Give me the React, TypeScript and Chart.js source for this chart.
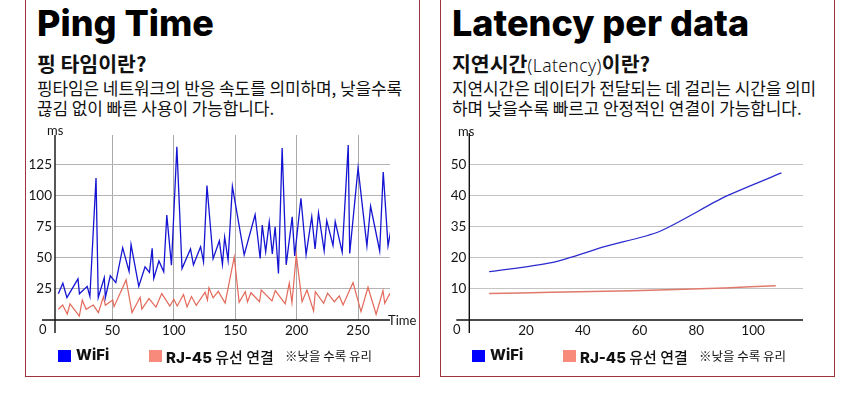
import { useRef, useEffect } from 'react';
import Chart from 'chart.js/auto';

// Ping time series (left panel)
const wifiTimes = [6, 9.7, 13, 22, 23.2, 29.5, 31.7, 36.7, 38.5, 43.4, 44.3, 48.3, 52.8, 58.4, 63.6, 65.2, 71.5, 76.6, 80.2, 82.4, 83.7, 87.9, 91.8, 94.3, 98.1, 102.5, 106.7, 113.6, 116, 121.8, 124.2, 127, 132, 137.1, 139.6, 141.4, 144.2, 147.7, 157.3, 166.2, 170.3, 172, 174.8, 177.7, 180.2, 182.5, 185.2, 188.2, 191.5, 196.4, 198.4, 203.5, 207.7, 212.3, 215, 217.8, 222.4, 224.5, 229.6, 231.4, 237.1, 242, 243.2, 250, 257.2, 260.2, 267.6, 270.5, 274.4, 277.2];
const wifiMs = [21, 29.5, 18, 33, 21, 27, 19, 114, 18, 34, 18, 35.5, 30, 58, 39, 60.5, 27, 42.7, 38.2, 57.5, 33.3, 47.4, 38.8, 84.2, 44, 139, 41.3, 57, 44.3, 58.8, 46.7, 108, 49.2, 63.5, 44.6, 66.5, 48, 107.2, 52.3, 84.5, 49.4, 76.2, 54.8, 78.6, 53, 74.8, 37.3, 138, 44.3, 82.8, 51.4, 97.7, 52.6, 83, 57, 86, 55.5, 79.8, 59.8, 79, 54.5, 140.4, 53.4, 122, 59.5, 91.3, 55.5, 118.8, 59.5, 75];
const lanTimes = [6, 9.5, 13.3, 15.5, 23.1, 25.5, 28.6, 34.5, 38.6, 42.7, 44.3, 50.3, 51.4, 61.2, 66, 72.6, 74, 79.8, 85.5, 90.2, 96.8, 100, 102.8, 107.9, 110.8, 114.4, 118.3, 125.5, 127.4, 128.6, 132, 136.2, 141.8, 149.2, 153.2, 158.2, 160, 162.8, 169.8, 171.2, 179.9, 182.6, 190.7, 194, 196.2, 199.7, 204.4, 208.4, 213.8, 215.2, 222, 225.2, 230.7, 234.7, 237.8, 245.9, 252.4, 258.1, 264.7, 270.3, 271.7, 275.7, 277.7];
const lanMs = [8.6, 12, 4.8, 12.9, 3.2, 16, 8.6, 12, 5.9, 18.7, 11.8, 16, 10.7, 32.2, 5.9, 18.2, 8.8, 17.2, 10.4, 21.2, 11.2, 16.6, 11.2, 20.5, 10.5, 18.8, 11.8, 22.3, 16, 25.8, 17.8, 23, 13.6, 50.6, 14.2, 22.8, 14.5, 21.9, 14.7, 24.1, 15.3, 23.6, 12.9, 29.5, 13.9, 52.3, 14.7, 24.1, 7.2, 22.8, 13.4, 21.5, 14.7, 19.3, 12.1, 30, 6.7, 26.3, 4.6, 23.6, 13.4, 20.9, 18.2];
const pingXTicks = [50, 100, 150, 200, 250];
const pingYTicks = [25, 50, 75, 100, 125];

// Latency per data (right panel)
const latWifiX = [7, 29, 48, 67, 90, 110];
const latWifiMs = [15.5, 18.4, 23.6, 28.4, 39.5, 47.2];
const latLanX = [7, 29, 48, 67, 90, 108];
const latLanMs = [8.5, 8.9, 9.2, 9.6, 10.3, 11.0];
const latXTicks = [20, 40, 60, 80, 100];
const latYTicks = [10, 20, 30, 40, 50];
const latYLabels = ['10', '20', '35', '40', '50'];

const BLUE = '#1414d2';
const RED = '#e3695a';
const TICK_FONT = { family: 'Lato, "Noto Sans", sans-serif', size: 13.5, weight: 400 as const };
const KR = '"Noto Sans CJK KR", "Noto Sans", sans-serif';
const TITLE = 'Inter, "Noto Sans", sans-serif';

// draws the crossing axis lines, a bit past the origin like the original
const axisCross = {
  id: 'axisCross',
  afterDraw(chart: any, _args: any, opts: any) {
    const { ctx, chartArea: a } = chart;
    ctx.save();
    ctx.strokeStyle = '#111';
    ctx.lineWidth = 1.4;
    ctx.beginPath();
    ctx.moveTo(a.left - opts.xLeft, a.bottom);
    ctx.lineTo(a.right, a.bottom);
    ctx.moveTo(a.left, a.top);
    ctx.lineTo(a.left, a.bottom + opts.yBelow);
    ctx.stroke();
    ctx.restore();
  },
};

function zip(xs: number[], ys: number[]) {
  return xs.map((x, i) => ({ x, y: ys[i] }));
}

function pingConfig(): any {
  return {
    type: 'line',
    data: {
      datasets: [
        { label: 'WiFi', data: zip(wifiTimes, wifiMs), borderColor: BLUE, borderWidth: 1.3, pointRadius: 0, tension: 0 },
        { label: 'RJ-45', data: zip(lanTimes, lanMs), borderColor: RED, borderWidth: 1.2, pointRadius: 0, tension: 0 },
      ],
    },
    plugins: [axisCross],
    options: {
      animation: false,
      responsive: true,
      maintainAspectRatio: false,
      layout: { padding: { left: 0, right: 40, top: 15, bottom: 0 } },
      plugins: { legend: { display: false }, tooltip: { enabled: false }, axisCross: { xLeft: 13, yBelow: 13 } },
      scales: {
        x: {
          type: 'linear',
          min: 3.3,
          max: 276,
          afterBuildTicks: (s: any) => { s.ticks = pingXTicks.map((v) => ({ value: v })); },
          afterFit: (s: any) => { s.height = 30; },
          grid: { color: '#a9a9a9', lineWidth: 1, drawTicks: false },
          border: { display: false },
          ticks: { font: TICK_FONT, color: '#151515', padding: 3, maxRotation: 0 },
        },
        y: {
          type: 'linear',
          min: 0,
          max: 148.5,
          afterBuildTicks: (s: any) => { s.ticks = pingYTicks.map((v) => ({ value: v })); },
          afterFit: (s: any) => { s.width = 55; },
          grid: { color: '#b4b4b4', lineWidth: 1, drawTicks: false },
          border: { display: false },
          ticks: { font: TICK_FONT, color: '#151515', padding: 3 },
        },
      },
    },
  };
}

function latencyConfig(): any {
  return {
    type: 'line',
    data: {
      datasets: [
        { label: 'WiFi', data: zip(latWifiX, latWifiMs), borderColor: '#2b2bd0', borderWidth: 1.3, pointRadius: 0, tension: 0.25 },
        { label: 'RJ-45', data: zip(latLanX, latLanMs), borderColor: '#e07a6c', borderWidth: 1.5, pointRadius: 0, tension: 0.25 },
      ],
    },
    plugins: [axisCross],
    options: {
      animation: false,
      responsive: true,
      maintainAspectRatio: false,
      layout: { padding: { left: 0, right: 37, top: 13, bottom: 0 } },
      plugins: { legend: { display: false }, tooltip: { enabled: false }, axisCross: { xLeft: 13, yBelow: 13 } },
      scales: {
        x: {
          type: 'linear',
          min: 0,
          max: 117.6,
          afterBuildTicks: (s: any) => { s.ticks = latXTicks.map((v) => ({ value: v })); },
          afterFit: (s: any) => { s.height = 30; },
          grid: { display: false, drawTicks: false },
          border: { display: false },
          ticks: { font: TICK_FONT, color: '#151515', padding: 3, maxRotation: 0 },
        },
        y: {
          type: 'linear',
          min: 0,
          max: 60,
          afterBuildTicks: (s: any) => { s.ticks = latYTicks.map((v) => ({ value: v })); },
          afterFit: (s: any) => { s.width = 39.3; },
          grid: { color: '#c4c4c4', lineWidth: 1, drawTicks: false },
          border: { display: false },
          ticks: {
            font: TICK_FONT,
            color: '#151515',
            padding: 3,
            callback: (v: number) => latYLabels[latYTicks.indexOf(v)] ?? '',
          },
        },
      },
    },
  };
}

function ChartCanvas({ config, left, top, width, height }: { config: () => any; left: number; top: number; width: number; height: number }) {
  const ref = useRef<HTMLCanvasElement>(null);
  useEffect(() => {
    if (!ref.current) return;
    const chart = new Chart(ref.current, config());
    return () => chart.destroy();
  }, [config]);
  return (
    <div style={{ position: 'absolute', left, top, width, height }}>
      <canvas ref={ref} />
    </div>
  );
}

const abs = (left: number, top: number, extra: any = {}) => ({ position: 'absolute' as const, left, top, whiteSpace: 'nowrap' as const, ...extra });

function Legend({ left }: { left: number }) {
  return (
    <>
      <div style={abs(left, 349.5, { width: 12.5, height: 12, background: '#0000ff' })} />
      <div style={abs(left + 18, 346, { font: `800 15px ${TITLE}`, lineHeight: '18px', color: '#111' })}>WiFi</div>
      <div style={abs(left + 91, 349.5, { width: 12.5, height: 12, background: '#f88a7b' })} />
      <div style={abs(left + 108, 346, { font: `800 15px ${TITLE}`, lineHeight: '18px', color: '#111' })}>
        RJ-45 <span style={{ font: `500 15px ${KR}` }}>유선 연결</span>
      </div>
      <div style={abs(left + 227, 347, { font: `400 12.5px ${KR}`, lineHeight: '18px', color: '#111' })}>※낮을 수록 유리</div>
    </>
  );
}

function AxisText({ left, top, text }: { left: number; top: number; text: string }) {
  return (
    <div style={abs(left, top, { font: `400 13px Lato, "Noto Sans", sans-serif`, lineHeight: '14px', color: '#151515' })}>{text}</div>
  );
}

export default function App() {
  const border = '1.5px solid #9e3340';
  return (
    <div style={{ position: 'absolute', left: 0, top: 0, width: 860, height: 404, background: '#fff', overflow: 'hidden' }}>
      {/* panels */}
      <div style={{ position: 'absolute', left: 25, top: -10, width: 395, height: 387, border, boxSizing: 'border-box' }} />
      <div style={{ position: 'absolute', left: 440, top: -10, width: 395, height: 387, border, boxSizing: 'border-box' }} />

      {/* left texts */}
      <div style={abs(37, 5, { font: `800 36px ${TITLE}`, lineHeight: '36px', color: '#000' })}>Ping Time</div>
      <div style={abs(37, 51, { font: `700 20.5px ${KR}`, lineHeight: '24px', color: '#111' })}>핑 타임이란?</div>
      <div style={abs(37, 78, { font: `400 17px ${KR}`, lineHeight: '20px', color: '#111', letterSpacing: '-0.1px' })}>
        핑타임은 네트워크의 반응 속도를 의미하며, 낮을수록
        <br />
        끊김 없이 빠른 사용이 가능합니다.
      </div>

      {/* right texts */}
      <div style={abs(452, 5, { font: `800 36px ${TITLE}`, lineHeight: '36px', color: '#000' })}>Latency per data</div>
      <div style={abs(452, 51, { font: `700 20.5px ${KR}`, lineHeight: '24px', color: '#111' })}>
        지연시간<span style={{ font: `300 17.5px "Noto Sans", sans-serif`, letterSpacing: '0.4px' }}>(Latency)</span>이란?
      </div>
      <div style={abs(452, 78, { font: `400 17px ${KR}`, lineHeight: '20px', color: '#111', letterSpacing: '-0.1px' })}>
        지연시간은 데이터가 전달되는 데 걸리는 시간을 의미
        <br />
        하며 낮을수록 빠르고 안정적인 연결이 가능합니다.
      </div>

      {/* charts */}
      <ChartCanvas config={pingConfig} left={0} top={120} width={430} height={230} />
      <ChartCanvas config={latencyConfig} left={430} top={120} width={410} height={230} />

      {/* axis captions */}
      <AxisText left={47} top={123} text="ms" />
      <AxisText left={39} top={322} text="0" />
      <AxisText left={388} top={313} text="Time" />
      <AxisText left={458} top={124} text="ms" />
      <AxisText left={453} top={322} text="0" />

      <Legend left={58} />
      <Legend left={472} />
    </div>
  );
}
